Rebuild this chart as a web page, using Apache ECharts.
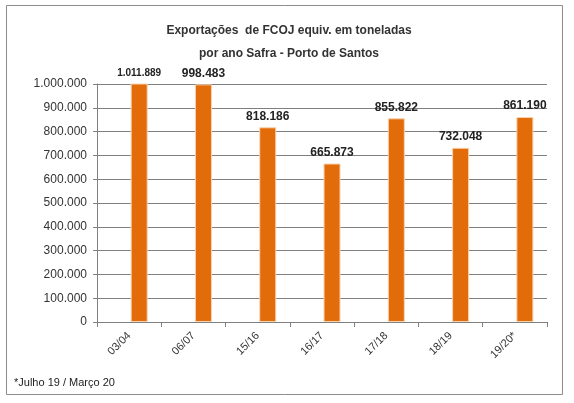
<!DOCTYPE html>
<html>
<head>
<meta charset="utf-8">
<script src="https://cdn.jsdelivr.net/npm/echarts@6/dist/echarts.min.js"></script>
<style>
  html, body { margin: 0; padding: 0; background: #fff; }
  #chart { width: 574px; height: 403px; }
</style>
</head>
<body>
<div id="chart"></div>
<script>
// Safras (crop years) and exported volumes in tonnes
const safras = ['03/04', '06/07', '15/16', '16/17', '17/18', '18/19', '19/20*']
const toneladas = [1011889, 998483, 818186, 665873, 855822, 732048, 861190]
const yTicks = [0, 100000, 200000, 300000, 400000, 500000, 600000, 700000, 800000, 900000, 1000000]

const fmt = (v) => String(v).replace(/\B(?=(\d{3})+(?!\d))/g, '.')

const chart = echarts.init(document.getElementById('chart'))

const barData = toneladas.map((v, i) => {
  // Excel shrank the first label to fit
  if (i === 0) return { value: v, label: { fontSize: 10 } }
  return v
})

chart.setOption({
  animation: false,
  textStyle: { fontFamily: 'Liberation Sans, Arial, sans-serif' },
  title: {
    text: 'Exportações  de FCOJ equiv. em toneladas\npor ano Safra - Porto de Santos',
    left: 284,
    textAlign: 'center',
    top: 14,
    textStyle: { fontSize: 12, fontWeight: 'bold', color: '#333', lineHeight: 23 }
  },
  graphic: [
    {
      type: 'rect',
      shape: { x: 6.5, y: 5.5, width: 556, height: 389 },
      style: { fill: 'none', stroke: '#8c8c8c', lineWidth: 1 },
      silent: true
    },
    {
      type: 'text',
      left: 14,
      top: 377,
      style: { text: '*Julho 19 / Março 20', fontSize: 11, fill: '#222', fontFamily: 'Liberation Sans, Arial, sans-serif' }
    }
  ],
  grid: { left: 97, right: 27, top: 84, bottom: 81, containLabel: false },
  xAxis: {
    type: 'category',
    data: safras,
    axisLine: { lineStyle: { color: '#808080' } },
    axisTick: { show: true, length: 5, lineStyle: { color: '#808080' } },
    axisLabel: { rotate: 45, fontSize: 11, color: '#333', margin: 12 }
  },
  yAxis: {
    type: 'value',
    min: yTicks[0],
    max: yTicks[yTicks.length - 1],
    interval: yTicks[1] - yTicks[0],
    axisLine: { show: true, lineStyle: { color: '#808080' } },
    axisTick: { show: true, length: 4, lineStyle: { color: '#808080' } },
    axisLabel: { fontSize: 12, color: '#333', margin: 10, formatter: fmt },
    splitLine: { lineStyle: { color: '#808080' } }
  },
  series: [
    { type: 'bar', data: [], barWidth: 17, barGap: '18%' },
    {
      type: 'bar',
      data: barData,
      barWidth: 17,
      barGap: '18%',
      clip: true,
      itemStyle: { color: '#E36C0A', borderColor: '#F9D2AE', borderWidth: 1 },
      label: {
        show: true,
        position: 'top',
        distance: 5,
        fontSize: 12,
        fontWeight: 'bold',
        color: '#222',
        formatter: (p) => fmt(p.value)
      }
    }
  ]
})

window.addEventListener('resize', () => chart.resize())
</script>
</body>
</html>
